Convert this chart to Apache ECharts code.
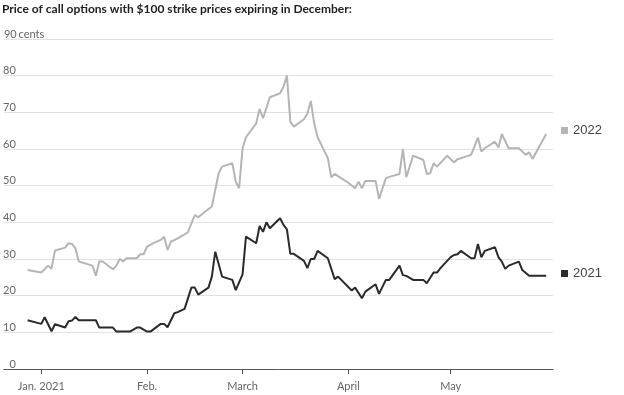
<!DOCTYPE html>
<html>
<head>
<meta charset="utf-8">
<script src="https://cdn.jsdelivr.net/npm/echarts@6/dist/echarts.min.js"></script>
<style>
html,body{margin:0;padding:0;background:#fff;}
#c{width:624px;height:395px;}
</style>
</head>
<body>
<div id="c"></div>
<script>
// ---- data (cents) ----
const dates2022 = ['2020-12-28','2021-01-01','2021-01-03','2021-01-04','2021-01-05','2021-01-08','2021-01-09','2021-01-10','2021-01-11','2021-01-12','2021-01-16','2021-01-17','2021-01-18','2021-01-19','2021-01-22','2021-01-23','2021-01-24','2021-01-25','2021-01-26','2021-01-29','2021-01-30','2021-01-31','2021-02-01','2021-02-03','2021-02-05','2021-02-06','2021-02-07','2021-02-08','2021-02-10','2021-02-13','2021-02-15','2021-02-16','2021-02-18','2021-02-20','2021-02-22','2021-02-23','2021-02-26','2021-02-27','2021-02-28','2021-03-01','2021-03-02','2021-03-05','2021-03-06','2021-03-07','2021-03-09','2021-03-12','2021-03-13','2021-03-14','2021-03-15','2021-03-16','2021-03-19','2021-03-20','2021-03-21','2021-03-22','2021-03-23','2021-03-26','2021-03-27','2021-03-28','2021-03-30','2021-04-01','2021-04-03','2021-04-04','2021-04-05','2021-04-06','2021-04-09','2021-04-10','2021-04-12','2021-04-13','2021-04-16','2021-04-17','2021-04-18','2021-04-20','2021-04-23','2021-04-24','2021-04-25','2021-04-26','2021-04-27','2021-04-30','2021-05-02','2021-05-03','2021-05-07','2021-05-09','2021-05-10','2021-05-11','2021-05-14','2021-05-15','2021-05-16','2021-05-18','2021-05-21','2021-05-23','2021-05-24','2021-05-25','2021-05-29'];
const values2022 = [27,26.3,28.2,27.3,32.3,33.1,34.3,34.1,32.9,29.3,28.2,25.4,29.3,29.3,27.2,28.2,30,29.3,30.2,30.2,31.3,31.3,33.4,34.4,35.2,36.1,32.5,34.7,35.6,37.3,42,41.4,42.9,44.3,53.4,55.2,56.1,51.1,49.3,60.2,63.2,67,70.9,68.4,74.1,75.2,77,80,67.4,66.1,68.1,69.7,73.1,67,63.2,57.5,52.3,53.2,52,50.8,49.3,51.1,49.3,51.3,51.3,46.4,52,52.4,53.2,60,52.3,58.2,57,53.2,53.4,56.1,55.2,58.2,56.3,57.2,58.4,63.1,59.3,60.2,62,60.4,64.1,60.2,60.2,58.4,59.1,57.3,64.1];

const dates2021 = ['2020-12-28','2021-01-01','2021-01-02','2021-01-04','2021-01-05','2021-01-08','2021-01-09','2021-01-10','2021-01-11','2021-01-12','2021-01-17','2021-01-18','2021-01-22','2021-01-23','2021-01-27','2021-01-29','2021-01-30','2021-02-01','2021-02-02','2021-02-05','2021-02-06','2021-02-07','2021-02-09','2021-02-10','2021-02-12','2021-02-14','2021-02-15','2021-02-16','2021-02-19','2021-02-20','2021-02-21','2021-02-23','2021-02-26','2021-02-27','2021-03-01','2021-03-02','2021-03-05','2021-03-06','2021-03-07','2021-03-08','2021-03-09','2021-03-12','2021-03-13','2021-03-14','2021-03-15','2021-03-16','2021-03-19','2021-03-20','2021-03-21','2021-03-22','2021-03-23','2021-03-26','2021-03-28','2021-03-29','2021-04-02','2021-04-03','2021-04-05','2021-04-06','2021-04-09','2021-04-10','2021-04-12','2021-04-13','2021-04-16','2021-04-17','2021-04-18','2021-04-20','2021-04-23','2021-04-24','2021-04-26','2021-04-27','2021-04-28','2021-05-01','2021-05-02','2021-05-03','2021-05-04','2021-05-07','2021-05-08','2021-05-09','2021-05-10','2021-05-11','2021-05-14','2021-05-15','2021-05-16','2021-05-17','2021-05-18','2021-05-21','2021-05-22','2021-05-24','2021-05-29'];
const values2021 = [13.3,12.3,14.1,10.3,12.2,11.3,13,13.2,14.2,13.3,13.3,11.3,11.3,10.2,10.2,11.3,11.3,10.2,10.2,12.3,12.3,11.4,15.2,15.5,16.4,22.2,22.2,20.3,22.2,25.2,32,25.2,24.3,21.5,25.8,36.1,34.3,39,37.4,40,38.4,41.1,39.3,38.1,31.4,31.4,29.5,27.5,30,30,32.2,30.2,24.5,25.2,21.4,22.2,19.3,21.1,23.1,20.5,24.3,24.3,28.2,25.6,25.4,24.3,24.3,23.4,26.3,26.3,27.5,30.5,31.1,31.3,32.2,30.2,30.2,34.1,30.5,32.2,33.2,30.5,29.3,27.3,28.2,29.3,27,25.4,25.4];

const monthLabels = ['Jan. 2021','Feb.','March','April','May'];
const yTicks = [0,10,20,30,40,50,60,70,80,90];
const seriesNames = ['2022','2021'];
const titleText = 'Price of call options with $100 strike prices expiring in December:';

const FONT = 'Lato,"DejaVu Sans Condensed",sans-serif';

function pairs(ds, vs){ return ds.map((d,i)=>[d, vs[i]]); }

const chart = echarts.init(document.getElementById('c'), null, {renderer:'canvas'});
chart.setOption({
  animation:false,
  backgroundColor:'#fff',
  title:{
    text:titleText, left:2, top:3, padding:0,
    textStyle:{fontFamily:FONT, fontWeight:'bold', fontSize:12, color:'#222'}
  },
  legend:[
    {data:[seriesNames[0]], left:561, top:124, padding:0, icon:'rect', itemWidth:7, itemHeight:7, itemGap:0,
     selectedMode:false, textStyle:{fontFamily:'"Liberation Sans",sans-serif', fontSize:13, color:'#444'}},
    {data:[seriesNames[1]], left:561, top:267, padding:0, icon:'rect', itemWidth:7, itemHeight:7, itemGap:0,
     selectedMode:false, textStyle:{fontFamily:'"Liberation Sans",sans-serif', fontSize:13, color:'#444'}}
  ],
  grid:{left:0, right:71, top:39, bottom:26, containLabel:false},
  xAxis:{
    type:'time',
    min:'2020-12-21', max:'2021-05-31',
    minInterval:28*86400000, maxInterval:31*86400000,
    axisLine:{show:true, lineStyle:{color:'#555', width:1}},
    axisTick:{show:true, length:5, lineStyle:{color:'#555'}},
    splitLine:{show:false},
    axisLabel:{
      margin:12, color:'#666', fontFamily:FONT, fontSize:11,
      showMinLabel:false, showMaxLabel:false,
      formatter:function(v){
        const d=new Date(v);
        if(d.getDate()!==1) return '';
        const m=d.getMonth();
        return m<monthLabels.length ? monthLabels[m] : '';
      }
    }
  },
  yAxis:{
    type:'value', min:yTicks[0], max:yTicks[yTicks.length-1], interval:10,
    axisLine:{show:false}, axisTick:{show:false},
    splitLine:{lineStyle:{color:'#e2e2e2', width:1}},
    axisLabel:{
      inside:true, margin:1, align:'left', verticalAlign:'bottom', lineHeight:10,
      color:'#666', fontFamily:FONT, fontSize:11,
      formatter:function(v){ return v===90 ? '{n|90}{c| cents}' : '{n|'+v+'}'; },
      rich:{
        n:{width:11, align:'right', color:'#666', fontFamily:FONT, fontSize:11, lineHeight:10},
        c:{color:'#666', fontFamily:FONT, fontSize:11, lineHeight:10}
      }
    }
  },
  series:[
    {name:seriesNames[0], type:'line', data:pairs(dates2022, values2022), showSymbol:false, symbol:'none',
     color:'#b5b5b5', lineStyle:{color:'#b5b5b5', width:2}},
    {name:seriesNames[1], type:'line', data:pairs(dates2021, values2021), showSymbol:false, symbol:'none',
     color:'#2b2b2b', lineStyle:{color:'#2b2b2b', width:2}}
  ]
});
</script>
</body>
</html>
